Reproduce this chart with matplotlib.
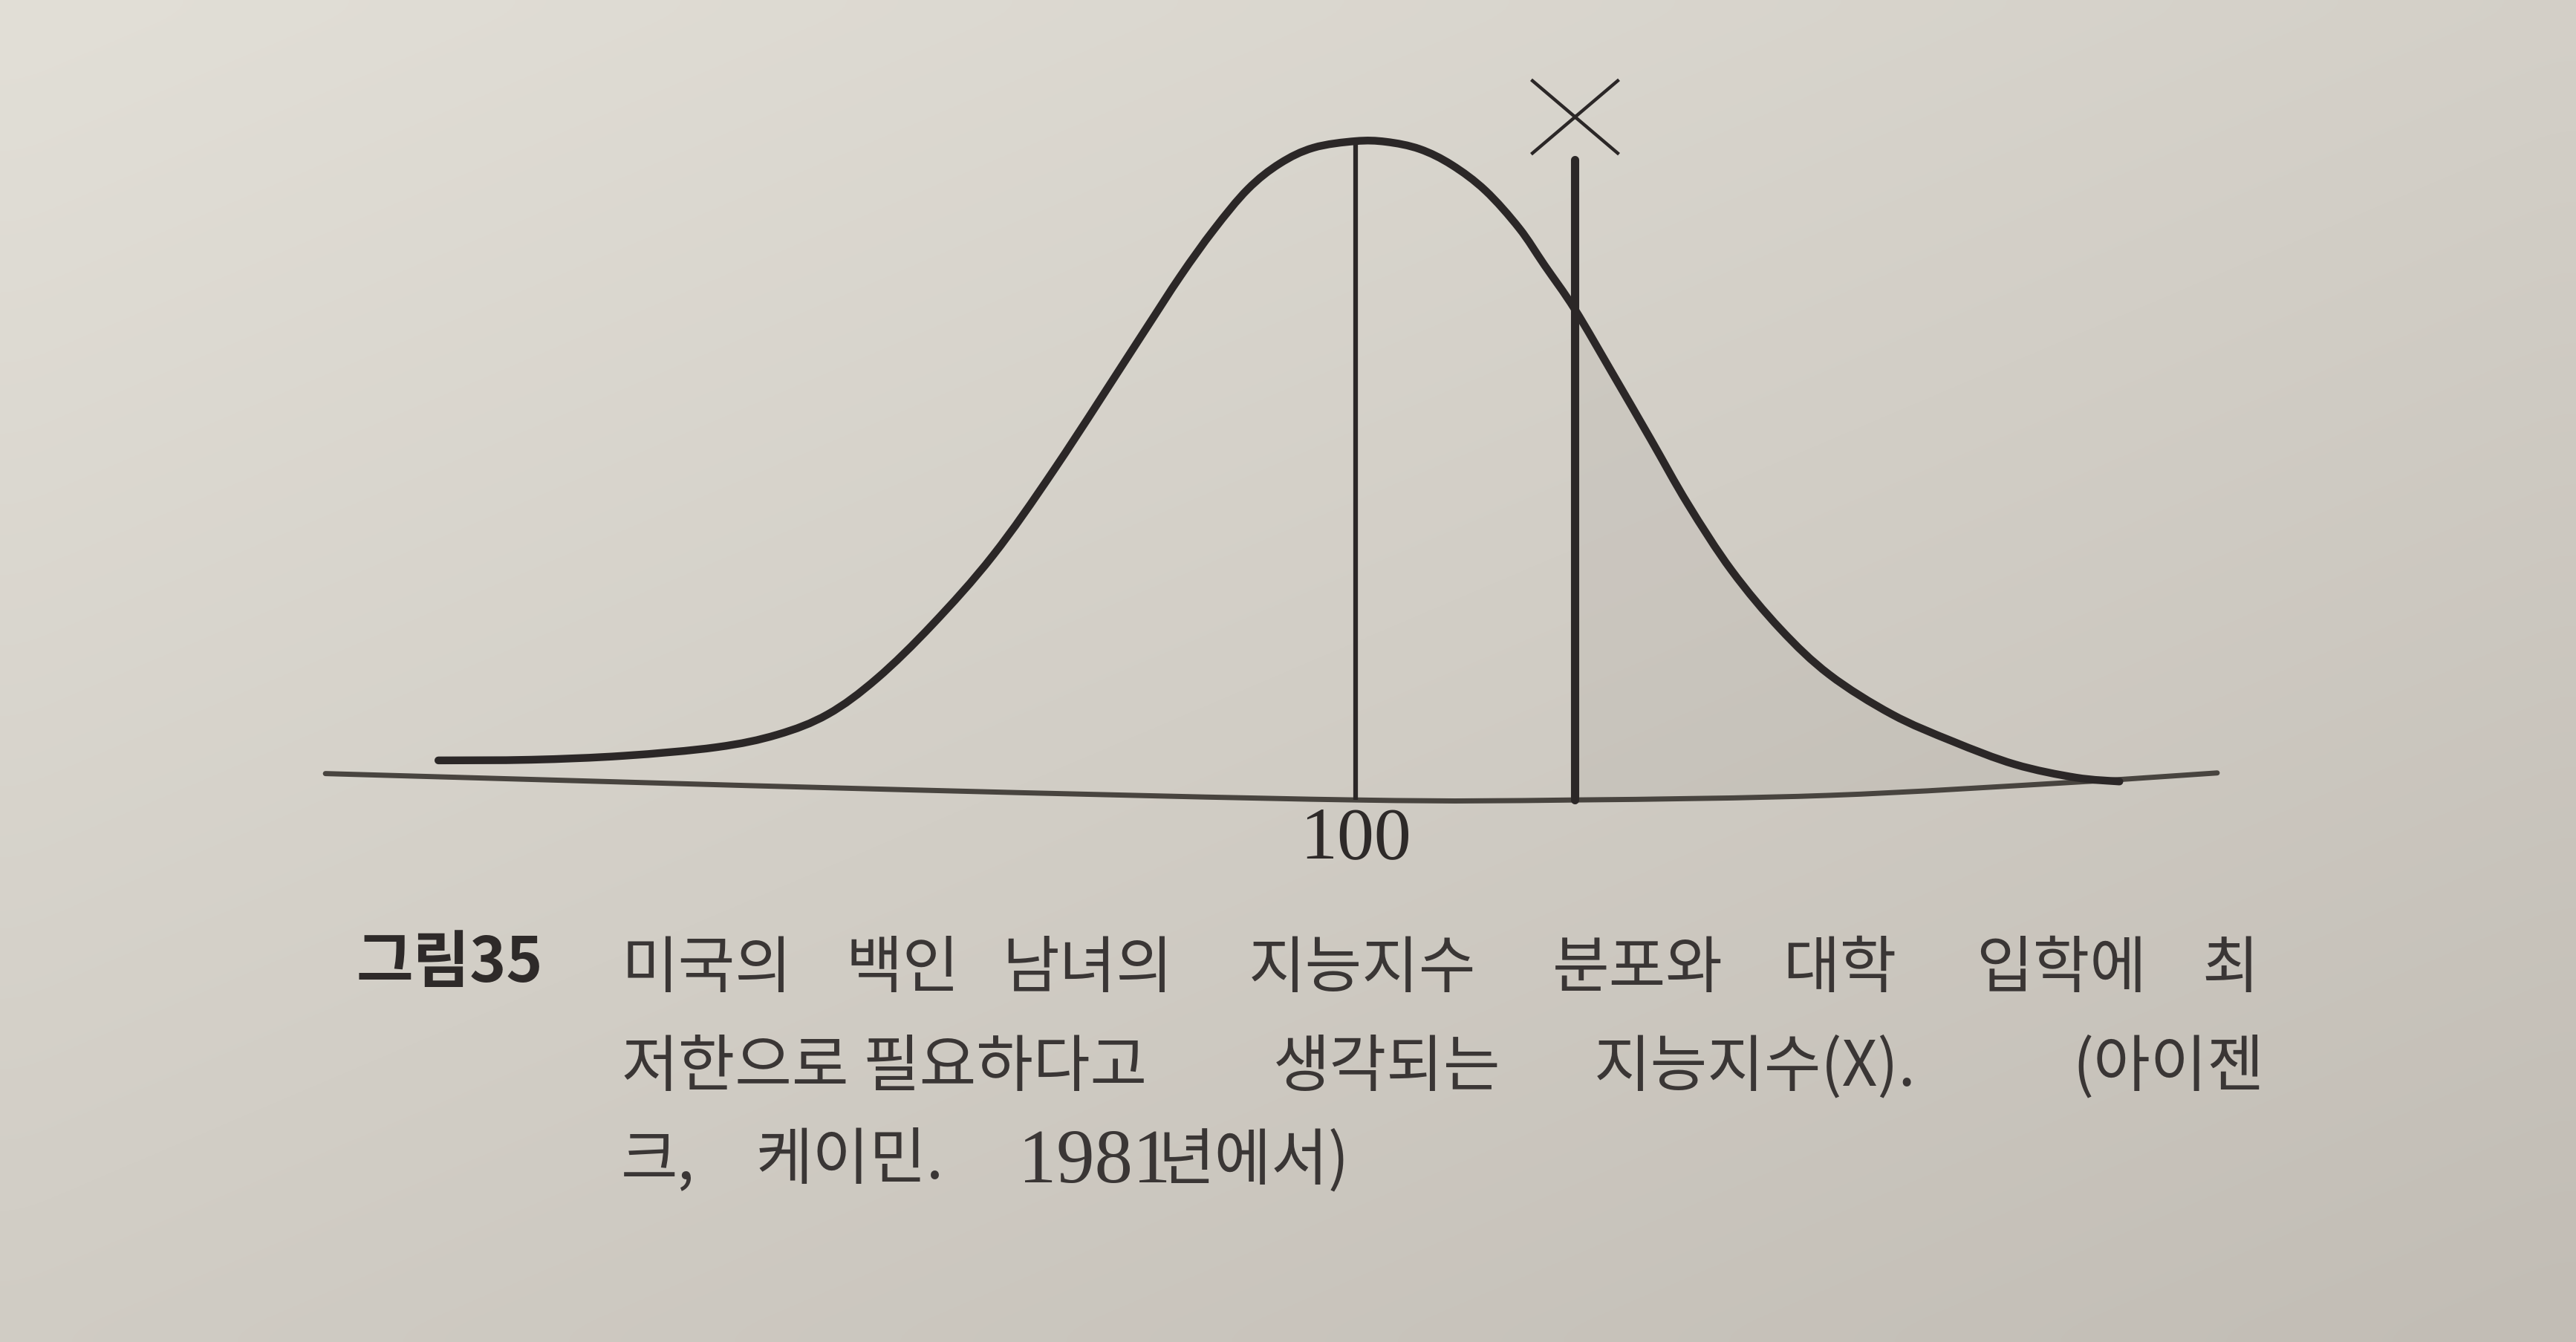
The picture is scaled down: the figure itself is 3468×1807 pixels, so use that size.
import numpy as np
import matplotlib
matplotlib.use("Agg")
from matplotlib import pyplot as plt
from matplotlib.path import Path
from matplotlib.patches import PathPatch

plt.rcParams['font.family'] = ['Noto Sans CJK KR', 'DejaVu Sans']

# bell curve (IQ, height relative to the peak)
curve_iq = [45.6, 51.1, 56.6, 62.1, 65.7, 68.7, 71.6, 74.9, 78.5, 82.2, 87.3, 89.6,
            91.6, 93.6, 95.5, 97.5, 100.0, 101.8, 103.8, 105.7, 107.7, 109.7, 111.2,
            113.0, 115.3, 117.5, 119.7, 122.3, 125.2, 128.1, 131.8, 135.4, 139.1, 142.7, 145.3]
curve_h = [0.061, 0.062, 0.068, 0.081, 0.100, 0.131, 0.185, 0.267, 0.372, 0.505, 0.705, 0.795,
           0.866, 0.927, 0.966, 0.990, 1.000, 0.999, 0.988, 0.964, 0.925, 0.868, 0.812,
           0.745, 0.645, 0.548, 0.450, 0.349, 0.260, 0.191, 0.131, 0.090, 0.055, 0.035, 0.029]

# the base line (page is slightly curved in the photo)
base_iq = [38.9, 72.5, 100.0, 113.0, 128.1, 142.7, 151.1]
base_h = [0.041, 0.017, 0.001, 0.001, 0.008, 0.028, 0.042]

mean_iq = 100
cutoff_iq = 113
cutoff_top = 0.972
marker_h = 1.037
tick_label = "100"

fig_label = "그림35"
caption_lines = [
    ["미국의", "백인", "남녀의", "지능지수", "분포와", "대학", "입학에", "최"],
    ["저한으로", "필요하다고", "생각되는", "지능지수(X).", "(아이젠"],
    ["크,", "케이민.", "1981", "년에서)"],
]
# word start positions (fraction of figure width) and line heights
caption_x = [
    [0.2411, 0.3284, 0.3890, 0.4847, 0.6027, 0.6920, 0.7670, 0.8547],
    [0.2411, 0.3348, 0.4942, 0.6188, 0.8045],
    [0.2411, 0.2935, 0.3953, 0.4495],
]
caption_y = [0.2778, 0.2045, 0.1350]


def smooth_path(xs, ys):
    # catmull-rom through the read points, handed to matplotlib as bezier segments
    p = np.column_stack([xs, ys])
    p = np.vstack([p[0], p, p[-1]])
    verts = [tuple(p[1])]
    codes = [Path.MOVETO]
    for i in range(1, len(p) - 2):
        c1 = p[i] + (p[i + 1] - p[i - 1]) / 6
        c2 = p[i + 1] - (p[i + 2] - p[i]) / 6
        verts += [tuple(c1), tuple(c2), tuple(p[i + 1])]
        codes += [Path.CURVE4] * 3
    return Path(verts, codes)


W, H = 3468, 1807
fig = plt.figure(figsize=(W / 100, H / 100), dpi=100)
ax = fig.add_axes([0, 0, 1, 1])
xlim = (19.60, 172.38)
ylim = (-0.8209, 1.2140)
ax.set_xlim(*xlim)
ax.set_ylim(*ylim)
ax.axis("off")

# paper
gx, gy = np.meshgrid(np.linspace(0, 1, 64), np.linspace(0, 1, 64))
top = np.array([226, 223, 215]) / 255
shade = np.array([32, 34, 34]) / 255
paper = top[None, None, :] - (0.55 * gy[..., None] + 0.45 * gx[..., None]) * shade[None, None, :]
ax.imshow(paper, extent=(xlim[0], xlim[1], ylim[0], ylim[1]), aspect="auto",
          origin="upper", zorder=0, interpolation="bicubic")

ink = "#2b2727"

# shaded area to the right of the cut-off
ci = np.array(curve_iq)
ch = np.array(curve_h)
sel = ci >= cutoff_iq
ax.fill_between(ci[sel], np.interp(ci[sel], base_iq, base_h), ch[sel],
                color="#5a554f", alpha=0.06, lw=0, zorder=1)

ax.add_patch(PathPatch(smooth_path(base_iq, base_h), fill=False, edgecolor="#48443f",
                       lw=5, capstyle="round", zorder=2))
ax.add_patch(PathPatch(smooth_path(curve_iq, curve_h), fill=False, edgecolor=ink,
                       lw=7.5, capstyle="round", joinstyle="round", zorder=3))

ax.vlines(mean_iq, np.interp(mean_iq, base_iq, base_h), max(curve_h),
          color=ink, lw=4.5, zorder=3)
ax.vlines(cutoff_iq, np.interp(cutoff_iq, base_iq, base_h), cutoff_top,
          color=ink, lw=8, zorder=3, capstyle="round")

xmark = Path([(-1, -0.85), (1, 0.85), (-1, 0.85), (1, -0.85)],
             [Path.MOVETO, Path.LINETO, Path.MOVETO, Path.LINETO])
ax.plot([cutoff_iq], [marker_h], marker=xmark, markersize=85, markeredgewidth=3.2,
        markeredgecolor=ink, markerfacecolor="none", ls="none", zorder=3)

ax.text(mean_iq, -0.06, tick_label, ha="center", va="center", fontsize=72,
        family=["Liberation Serif", "DejaVu Serif"], color="#2e2a29")

fig.text(0.1384, 0.2817, fig_label, ha="left", va="center", fontsize=60,
         fontweight="bold", color="#2e2a29")
for words, xs, y in zip(caption_lines, caption_x, caption_y):
    for w, x in zip(words, xs):
        if w.isdigit():
            fig.text(x, y - 0.002, w, ha="left", va="center", fontsize=74, color="#3a3635",
                     family=["Liberation Serif", "DejaVu Serif"])
        else:
            fig.text(x, y, w, ha="left", va="center", fontsize=60, color="#3a3635",
                     family=["Noto Sans CJK KR", "DejaVu Sans"])

fig.savefig("out.png", dpi=100)
